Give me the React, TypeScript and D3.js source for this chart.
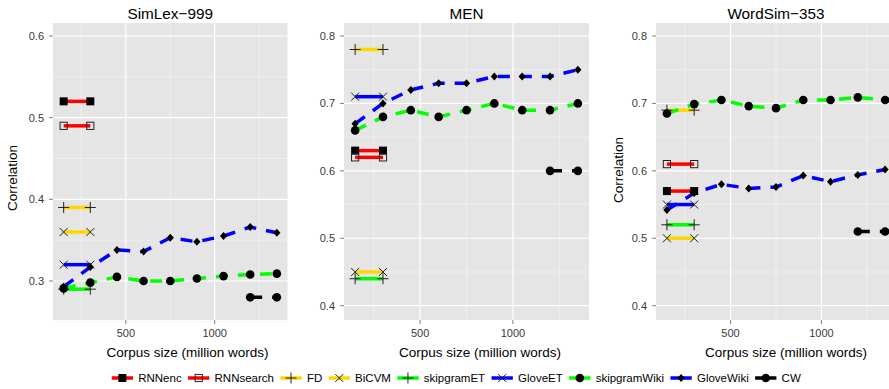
import React from "react";
import * as d3 from "d3";

// ---------- data ----------
const corpusSizes = [150, 300, 450, 600, 750, 900, 1050, 1200, 1350];
const etSizes = [150, 300];
const cwSizes = [1200, 1350];
const panelTitles = ["SimLex−999", "MEN", "WordSim−353"];
const xTicks = [500, 1000];
const xMinorTicks = [250, 750, 1250];
const yTicksSimLex = [0.3, 0.4, 0.5, 0.6];
const yMinorSimLex = [0.25, 0.35, 0.45, 0.55];
const yTicksOther = [0.4, 0.5, 0.6, 0.7, 0.8];
const yMinorOther = [0.45, 0.55, 0.65, 0.75];

// one value per panel: SimLex-999, MEN, WordSim-353
const rnnencValues = [0.52, 0.63, 0.57];
const rnnsearchValues = [0.49, 0.62, 0.61];
const fdValues = [0.39, 0.78, 0.69];
const bicvmValues = [0.36, 0.45, 0.5];
const skipgramETValues = [0.29, 0.44, 0.52];
const gloveETValues = [0.32, 0.71, 0.55];
const cwValues = [0.28, 0.6, 0.51];

const skipgramWikiSimLex = [0.291, 0.298, 0.305, 0.3, 0.3, 0.303, 0.306, 0.308, 0.309];
const skipgramWikiMEN = [0.66, 0.68, 0.69, 0.68, 0.69, 0.7, 0.69, 0.69, 0.7];
const skipgramWikiWS = [0.685, 0.699, 0.705, 0.696, 0.693, 0.705, 0.705, 0.709, 0.705];
const gloveWikiSimLex = [0.293, 0.317, 0.338, 0.336, 0.353, 0.348, 0.355, 0.366, 0.359];
const gloveWikiMEN = [0.67, 0.7, 0.72, 0.73, 0.73, 0.74, 0.74, 0.74, 0.75];
const gloveWikiWS = [0.542, 0.567, 0.58, 0.574, 0.576, 0.593, 0.584, 0.594, 0.602];

type Shape = "sqFill" | "sqOpen" | "plus" | "cross" | "circle" | "diamond";
interface Series {
  name: string;
  color: string;
  shape: Shape;
  dashed: boolean;
  sizes: number[];
  values: (p: number) => number[];
}

const RED = "#FF0000";
const GOLD = "#FFD700";
const GREEN = "#00FF00";
const BLUE = "#0000FF";

const series: Series[] = [
  { name: "RNNenc", color: RED, shape: "sqFill", dashed: false, sizes: etSizes, values: (p) => etSizes.map(() => rnnencValues[p]) },
  { name: "RNNsearch", color: RED, shape: "sqOpen", dashed: false, sizes: etSizes, values: (p) => etSizes.map(() => rnnsearchValues[p]) },
  { name: "FD", color: GOLD, shape: "plus", dashed: false, sizes: etSizes, values: (p) => etSizes.map(() => fdValues[p]) },
  { name: "BiCVM", color: GOLD, shape: "cross", dashed: false, sizes: etSizes, values: (p) => etSizes.map(() => bicvmValues[p]) },
  { name: "skipgramET", color: GREEN, shape: "plus", dashed: false, sizes: etSizes, values: (p) => etSizes.map(() => skipgramETValues[p]) },
  { name: "GloveET", color: BLUE, shape: "cross", dashed: false, sizes: etSizes, values: (p) => etSizes.map(() => gloveETValues[p]) },
  { name: "skipgramWiki", color: GREEN, shape: "circle", dashed: true, sizes: corpusSizes, values: (p) => [skipgramWikiSimLex, skipgramWikiMEN, skipgramWikiWS][p] },
  { name: "GloveWiki", color: BLUE, shape: "diamond", dashed: true, sizes: corpusSizes, values: (p) => [gloveWikiSimLex, gloveWikiMEN, gloveWikiWS][p] },
  { name: "CW", color: "#000000", shape: "circle", dashed: true, sizes: cwSizes, values: (p) => cwSizes.map(() => cwValues[p]) },
];

// ---------- layout ----------
const W = 889;
const H = 389;
const TOP = 23;
const BOTTOM = 320;
const FONT = "'Liberation Sans', Arial, Helvetica, sans-serif";
const layouts = [
  { left: 53, right: 287.5, yDomain: [0.25224, 0.61592], yTicks: yTicksSimLex, yMinor: yMinorSimLex, xTitleX: 187.5, yTitle: { x: 12.5, y: 178 } },
  { left: 344, right: 589, yDomain: [0.37879, 0.81928], yTicks: yTicksOther, yMinor: yMinorOther, xTitleX: 480, yTitle: null },
  { left: 656, right: 896, yDomain: [0.37879, 0.81928], yTicks: yTicksOther, yMinor: yMinorOther, xTitleX: 786, yTitle: { x: 618, y: 170 } },
];

function Marker({ shape, x, y }: { shape: Shape; x: number; y: number }) {
  switch (shape) {
    case "sqFill":
      return <rect x={x - 4} y={y - 4} width={8} height={8} fill="#000" />;
    case "sqOpen":
      return <rect x={x - 3.6} y={y - 3.6} width={7.2} height={7.2} fill="none" stroke="#222" strokeWidth={1} />;
    case "plus":
      return <path d={`M${x - 5.5},${y}H${x + 5.5}M${x},${y - 5.5}V${y + 5.5}`} stroke="#222" strokeWidth={1} />;
    case "cross":
      return <path d={`M${x - 4},${y - 4}L${x + 4},${y + 4}M${x - 4},${y + 4}L${x + 4},${y - 4}`} stroke="#222" strokeWidth={1} />;
    case "circle":
      return <circle cx={x} cy={y} r={4.3} fill="#000" />;
    case "diamond":
      return <path d={`M${x},${y - 4}L${x + 3.6},${y}L${x},${y + 4}L${x - 3.6},${y}Z`} fill="#000" />;
  }
  return null;
}

function Panel({ p }: { p: number }) {
  const L = layouts[p];
  const x = d3.scaleLinear().domain([90, 1410]).range([L.left, L.right]);
  const y = d3.scaleLinear().domain(L.yDomain).range([BOTTOM, TOP]);
  const line = d3.line<[number, number]>().x((d) => x(d[0])).y((d) => y(d[1]));
  const cx = (L.left + L.right) / 2;
  return (
    <g>
      <rect x={L.left} y={TOP} width={L.right - L.left} height={BOTTOM - TOP} fill="#E5E5E5" />
      {L.yMinor.map((t) => (
        <line key={"ym" + t} x1={L.left} x2={L.right} y1={y(t)} y2={y(t)} stroke="#F2F2F2" strokeWidth={0.7} />
      ))}
      {xMinorTicks.map((t) => (
        <line key={"xm" + t} x1={x(t)} x2={x(t)} y1={TOP} y2={BOTTOM} stroke="#F2F2F2" strokeWidth={0.7} />
      ))}
      {L.yTicks.map((t) => (
        <line key={"y" + t} x1={L.left} x2={L.right} y1={y(t)} y2={y(t)} stroke="#FFFFFF" strokeWidth={1.2} />
      ))}
      {xTicks.map((t) => (
        <line key={"x" + t} x1={x(t)} x2={x(t)} y1={TOP} y2={BOTTOM} stroke="#FFFFFF" strokeWidth={1.2} />
      ))}
      {series.map((s) => {
        const vals = s.values(p);
        const pts = s.sizes.map((sz, i) => [sz, vals[i]] as [number, number]);
        return (
          <path
            key={"l" + s.name}
            d={line(pts) || ""}
            fill="none"
            stroke={s.color}
            strokeWidth={3.5}
            strokeDasharray={s.dashed ? "12,10" : undefined}
          />
        );
      })}
      {series.map((s) => {
        const vals = s.values(p);
        return s.sizes.map((sz, i) => <Marker key={"m" + s.name + i} shape={s.shape} x={x(sz)} y={y(vals[i])} />);
      })}
      {/* y axis */}
      {L.yTicks.map((t) => (
        <g key={"yt" + t}>
          <line x1={L.left - 4} x2={L.left} y1={y(t)} y2={y(t)} stroke="#7F7F7F" strokeWidth={1} />
          <text x={L.left - 9} y={y(t)} dy="0.36em" textAnchor="end" fontSize={11} fill="#3A3A3A" fontFamily={FONT}>
            {t.toFixed(1)}
          </text>
        </g>
      ))}
      {/* x axis */}
      {xTicks.map((t) => (
        <g key={"xt" + t}>
          <line x1={x(t)} x2={x(t)} y1={BOTTOM} y2={BOTTOM + 4} stroke="#7F7F7F" strokeWidth={1} />
          <text x={x(t)} y={336.7} textAnchor="middle" fontSize={11} fill="#3A3A3A" fontFamily={FONT}>
            {t}
          </text>
        </g>
      ))}
      <text x={cx} y={19} textAnchor="middle" fontSize={15.3} fill="#000" fontFamily={FONT}>
        {panelTitles[p]}
      </text>
      <text x={L.xTitleX} y={356.5} textAnchor="middle" fontSize={13.5} fill="#000" fontFamily={FONT}>
        Corpus size (million words)
      </text>
      {L.yTitle && (
        <text
          transform={`translate(${L.yTitle.x},${L.yTitle.y}) rotate(-90)`}
          dy="0.35em"
          textAnchor="middle"
          fontSize={13.5}
          fill="#000"
          fontFamily={FONT}
        >
          Correlation
        </text>
      )}
    </g>
  );
}

function measure(text: string, size: number): number {
  try {
    const c = document.createElement("canvas");
    const ctx = c.getContext("2d");
    if (ctx) {
      ctx.font = `${size}px ${FONT}`;
      return ctx.measureText(text).width;
    }
  } catch (e) {}
  return text.length * size * 0.55;
}

function Legend() {
  const fs = 11.5;
  const keyW = 21.3;
  const gapKey = 5.2;
  const gapItem = 6.4;
  let cur = 111.7;
  const yc = 378;
  const items = series.map((s) => {
    const x0 = cur;
    const w = measure(s.name, fs);
    cur = x0 + keyW + gapKey + w + gapItem;
    return (
      <g key={"lg" + s.name}>
        <line x1={x0} x2={x0 + keyW} y1={yc} y2={yc} stroke={s.color} strokeWidth={3.5} />
        <Marker shape={s.shape} x={x0 + keyW / 2} y={yc} />
        <text x={x0 + keyW + gapKey} y={yc} dy="0.36em" fontSize={fs} fill="#000" fontFamily={FONT}>
          {s.name}
        </text>
      </g>
    );
  });
  return <g>{items}</g>;
}

export default function App() {
  return (
    <svg
      width={W}
      height={H}
      viewBox={`0 0 ${W} ${H}`}
      style={{ position: "fixed", left: 0, top: 0, background: "#FFFFFF" }}
    >
      <rect x={0} y={0} width={W} height={H} fill="#FFFFFF" />
      {[0, 1, 2].map((p) => (
        <Panel key={p} p={p} />
      ))}
      <Legend />
    </svg>
  );
}
